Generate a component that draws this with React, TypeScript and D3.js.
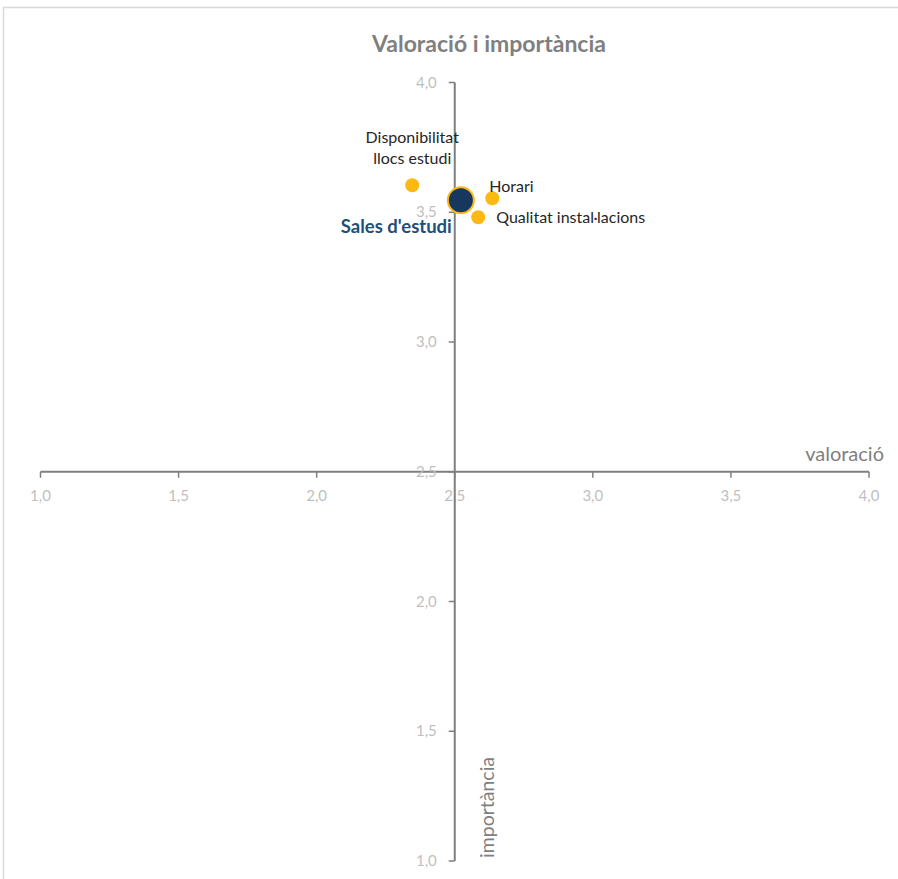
import React from "react";
import * as d3 from "d3";

const categories = ["Disponibilitat llocs estudi", "Horari", "Qualitat instal·lacions"];
const valoracio = [2.346, 2.636, 2.585];
const importancia = [3.604, 3.554, 3.481];
const summaryLabel = "Sales d'estudi";
const summaryX = 2.522;
const summaryY = 3.546;
const xTicks = [1, 1.5, 2, 2.5, 3, 3.5, 4];
const yTicks = [1, 1.5, 2, 2.5, 3, 3.5, 4];

const W = 898;
const H = 879;
const FONT = "Lato, 'Open Sans', sans-serif";
const fmt = (v: number) => v.toFixed(1).replace(".", ",");

export default function App() {
  const x = d3.scaleLinear().domain([1, 4]).range([40.5, 869]);
  const y = d3.scaleLinear().domain([1, 4]).range([861, 82.5]);
  const x0 = x(2.5);
  const y0 = y(2.5);
  const axisColor = "#7f7f7f";
  const tickColor = "#bfbfbf";
  const yellow = "#FDB913";

  const labelPos: { dx: number; dy: number; anchor: string; lines: string[] }[] = [
    { dx: 0, dy: -42, anchor: "middle", lines: ["Disponibilitat", "llocs estudi"] },
    { dx: -3, dy: -6, anchor: "start", lines: ["Horari"] },
    { dx: 18, dy: 6, anchor: "start", lines: ["Qualitat instal·lacions"] },
  ];

  return (
    <svg
      width={W}
      height={H}
      style={{ position: "absolute", left: 0, top: 0, background: "#fff" }}
      fontFamily={FONT}
    >
      <rect x={3.5} y={7.5} width={W + 10} height={H + 10} fill="#fff" stroke="#d9d9d9" strokeWidth={1.5} />
      <text x={489} y={52} textAnchor="middle" fontSize={22.5} fontWeight={700} fill="#7f7f7f" textLength={234} lengthAdjust="spacingAndGlyphs">
        Valoració i importància
      </text>

      {/* x axis */}
      <line x1={x(1)} x2={x(4)} y1={y0} y2={y0} stroke={axisColor} strokeWidth={2} />
      {xTicks.map((t) => (
        <g key={"xt" + t}>
          <line x1={x(t)} x2={x(t)} y1={y0} y2={y0 + 6} stroke={axisColor} strokeWidth={1.5} />
          <text x={x(t)} y={y0 + 29} textAnchor="middle" fontSize={15} fill={tickColor}>
            {fmt(t)}
          </text>
        </g>
      ))}

      {/* y axis */}
      <line x1={x0} x2={x0} y1={y(4)} y2={y(1)} stroke={axisColor} strokeWidth={2} />
      {yTicks.map((t) => (
        <g key={"yt" + t}>
          <line x1={x0 - 6} x2={x0} y1={y(t)} y2={y(t)} stroke={axisColor} strokeWidth={1.5} />
          <text x={x0 - 18} y={y(t) + 5} textAnchor="end" fontSize={15} fill={tickColor}>
            {fmt(t)}
          </text>
        </g>
      ))}

      <text x={884} y={461} textAnchor="end" fontSize={20} fill="#7f7f7f">
        valoració
      </text>
      <text
        transform={`translate(${494},${858}) rotate(-90)`}
        textAnchor="start"
        fontSize={19.5}
        fill="#7f7f7f"
      >
        importància
      </text>

      {/* points */}
      {categories.map((c, i) => (
        <circle key={c} cx={x(valoracio[i])} cy={y(importancia[i])} r={7} fill={yellow} />
      ))}
      <circle cx={x(summaryX)} cy={y(summaryY)} r={13} fill="#17375E" stroke={yellow} strokeWidth={2} />

      {/* labels */}
      {categories.map((c, i) => {
        const p = labelPos[i];
        const px = x(valoracio[i]) + p.dx;
        const py = y(importancia[i]) + p.dy;
        return (
          <text key={"l" + c} x={px} y={py} textAnchor={p.anchor} fontSize={16} fill="#262626">
            {p.lines.map((ln, k) => (
              <tspan key={k} x={px} dy={k === 0 ? 0 : 21}>
                {ln}
              </tspan>
            ))}
          </text>
        );
      })}
      <text x={x(summaryX) - 9} y={y(summaryY) + 33} textAnchor="end" fontSize={18.5} fontWeight={700} fill="#1F4E79">
        {summaryLabel}
      </text>
    </svg>
  );
}
